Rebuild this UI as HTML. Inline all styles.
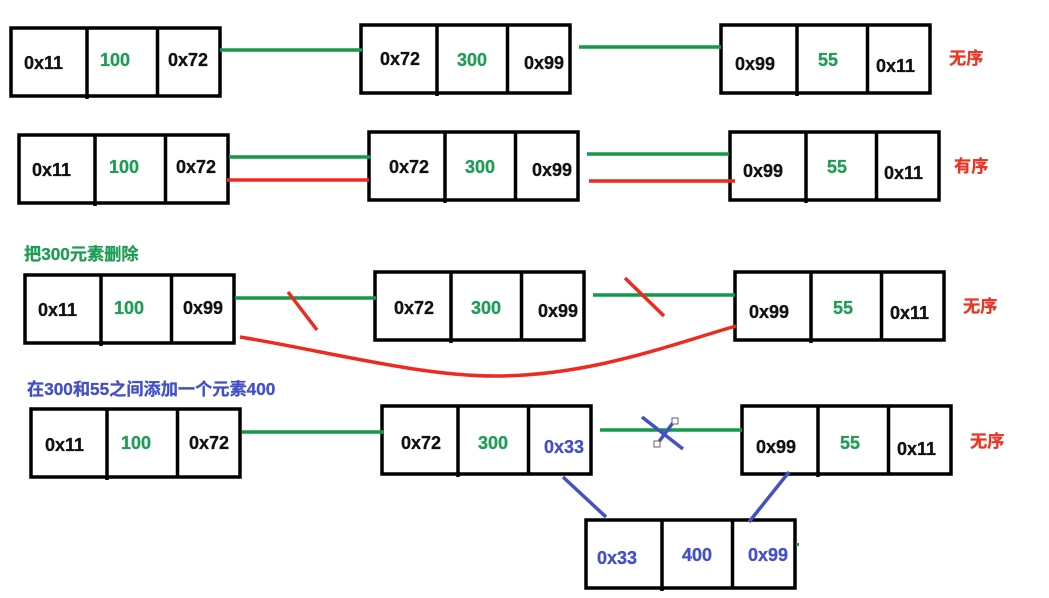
<!DOCTYPE html>
<html>
<head>
<meta charset="utf-8">
<style>
html,body{margin:0;padding:0;background:#fff;width:1049px;height:598px;overflow:hidden}
svg{display:block;filter:blur(0.35px)}
text{font-family:"Liberation Sans","Noto Sans CJK SC",sans-serif;font-weight:700;font-size:18px;stroke-width:.3px}
.k{fill:#111;stroke:#111}.g{fill:#1f9d55;stroke:#1f9d55}.b{fill:#4350c8;stroke:#4350c8}.r{fill:#ee3322;stroke:#ee3322}
.t{font-size:17.2px}
.box{fill:none;stroke:#000;stroke-width:3.5}
</style>
</head>
<body>
<svg width="1049" height="598" viewBox="0 0 1049 598" xmlns="http://www.w3.org/2000/svg">
<defs>
<g id="box">
<rect class="box" x="11" y="28" width="209" height="68"/>
<line class="box" x1="87" y1="28" x2="87" y2="99"/>
<line class="box" x1="157.5" y1="28" x2="157.5" y2="96"/>
</g>
</defs>

<!-- Row 1 -->
<use href="#box"/>
<use href="#box" x="350" y="-3"/>
<use href="#box" x="710" y="-3"/>
<text class="k" x="24" y="69">0x11</text>
<text class="g" x="100" y="66">100</text>
<text class="k" x="168" y="66">0x72</text>
<text class="k" x="380" y="65">0x72</text>
<text class="g" x="457" y="66">300</text>
<text class="k" x="524" y="69">0x99</text>
<text class="k" x="735" y="70">0x99</text>
<text class="g" x="818" y="66">55</text>
<text class="k" x="876" y="72">0x11</text>
<text class="r t" x="949" y="64">无序</text>
<line x1="220" y1="50" x2="362" y2="50" stroke="#129a4a" stroke-width="3.5"/>
<line x1="579" y1="47" x2="721" y2="47" stroke="#129a4a" stroke-width="3.5"/>

<!-- Row 2 -->
<use href="#box" x="8" y="107"/>
<use href="#box" x="358" y="104"/>
<use href="#box" x="719" y="104"/>
<text class="k" x="32" y="176">0x11</text>
<text class="g" x="109" y="173">100</text>
<text class="k" x="176" y="173">0x72</text>
<text class="k" x="389" y="173">0x72</text>
<text class="g" x="465" y="173">300</text>
<text class="k" x="532" y="176">0x99</text>
<text class="k" x="743" y="177">0x99</text>
<text class="g" x="827" y="173">55</text>
<text class="k" x="884" y="179">0x11</text>
<text class="r t" x="954" y="172">有序</text>
<line x1="229" y1="157" x2="371" y2="157" stroke="#129a4a" stroke-width="3.5"/>
<line x1="227" y1="180" x2="369" y2="180" stroke="#ee2a20" stroke-width="3.5"/>
<line x1="587" y1="154" x2="729" y2="154" stroke="#129a4a" stroke-width="3.5"/>
<line x1="589" y1="181" x2="735" y2="181" stroke="#ee2a20" stroke-width="3.5"/>

<!-- Row 3 -->
<text class="g t" x="24" y="260">把300元素删除</text>
<use href="#box" x="14" y="247"/>
<use href="#box" x="364" y="244"/>
<use href="#box" x="724" y="244"/>
<text class="k" x="38" y="316">0x11</text>
<text class="g" x="114" y="314">100</text>
<text class="k" x="183" y="314">0x99</text>
<text class="k" x="394" y="314">0x72</text>
<text class="g" x="471" y="314">300</text>
<text class="k" x="538" y="317">0x99</text>
<text class="k" x="749" y="318">0x99</text>
<text class="g" x="833" y="314">55</text>
<text class="k" x="890" y="319">0x11</text>
<text class="r t" x="963" y="312">无序</text>
<line x1="235" y1="298" x2="376" y2="298" stroke="#129a4a" stroke-width="3.5"/>
<line x1="593" y1="295" x2="735" y2="295" stroke="#129a4a" stroke-width="3.5"/>
<line x1="288" y1="292" x2="317" y2="330" stroke="#ee2a20" stroke-width="3.5"/>
<line x1="625" y1="278" x2="664" y2="316" stroke="#ee2a20" stroke-width="3.5"/>
<path d="M240 337 C330 352 420 376 495 376 C590 376 670 345 736 326" fill="none" stroke="#ee2a20" stroke-width="3.5"/>

<!-- Row 4 -->
<text class="b t" x="27" y="395">在300和55之间添加一个元素400</text>
<use href="#box" x="20" y="381"/>
<use href="#box" x="371" y="378"/>
<use href="#box" x="731" y="378"/>
<use href="#box" x="575" y="492"/>
<text class="k" x="45" y="451">0x11</text>
<text class="g" x="121" y="449">100</text>
<text class="k" x="189" y="449">0x72</text>
<text class="k" x="401" y="449">0x72</text>
<text class="g" x="478" y="449">300</text>
<text class="b" x="544" y="453">0x33</text>
<text class="k" x="756" y="453">0x99</text>
<text class="g" x="840" y="449">55</text>
<text class="k" x="897" y="455">0x11</text>
<text class="r t" x="970" y="447">无序</text>
<text class="b" x="597" y="564">0x33</text>
<text class="b" x="682" y="561">400</text>
<text class="b" x="748" y="561">0x99</text>
<line x1="242" y1="432" x2="384" y2="432" stroke="#129a4a" stroke-width="3.5"/>
<line x1="600" y1="430" x2="742" y2="430" stroke="#129a4a" stroke-width="3.5"/>
<line x1="642" y1="417" x2="683" y2="449" stroke="#4350c8" stroke-width="3.5"/>
<line x1="658" y1="443" x2="675" y2="420" stroke="#4350c8" stroke-width="3.5"/>
<rect x="654" y="441" width="6" height="6" fill="#fff" stroke="#666" stroke-width="1"/>
<rect x="672" y="418" width="6" height="6" fill="#fff" stroke="#666" stroke-width="1"/>
<line x1="563" y1="477" x2="606" y2="517" stroke="#4350c8" stroke-width="3.5"/>
<line x1="789" y1="472" x2="749" y2="522" stroke="#4350c8" stroke-width="3.5"/>
<rect x="796" y="543" width="3" height="3" fill="#1f9d55"/>
</svg>
</body>
</html>
